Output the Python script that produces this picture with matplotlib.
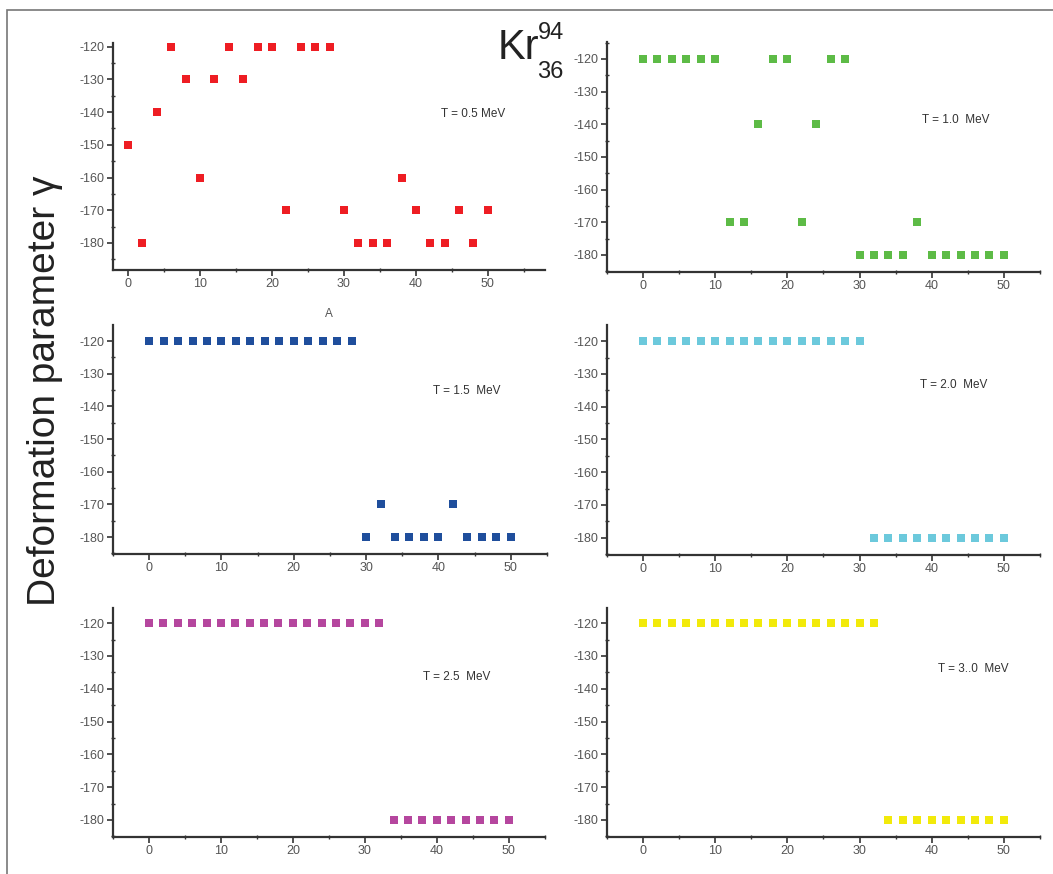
import matplotlib
matplotlib.use('Agg')
import matplotlib.pyplot as plt
from matplotlib.ticker import MultipleLocator
from matplotlib.patches import Rectangle

plt.rcParams.update({'font.family': ['Liberation Sans', 'DejaVu Sans'],
                     'axes.unicode_minus': False,
                     'figure.facecolor': 'white', 'axes.facecolor': 'white'})

# mass number A (x) and deformation gamma (y) per temperature
A = list(range(0, 51, 2))

gamma_05 = [-150, -180, -140, -120, -130, -160, -130, -120, -130, -120, -120, -170, -120,
            -120, -120, -170, -180, -180, -180, -160, -170, -180, -180, -170, -180, -170]
gamma_10 = [-120, -120, -120, -120, -120, -120, -170, -170, -140, -120, -120, -170, -140,
            -120, -120, -180, -180, -180, -180, -170, -180, -180, -180, -180, -180, -180]
gamma_15 = [-120] * 15 + [-180, -170, -180, -180, -180, -180, -170, -180, -180, -180, -180]
gamma_20 = [-120] * 16 + [-180] * 10
gamma_25 = [-120] * 17 + [-180] * 9
gamma_30 = [-120] * 17 + [-180] * 9

labels = ['T = 0.5 MeV', 'T = 1.0  MeV', 'T = 1.5  MeV',
          'T = 2.0  MeV', 'T = 2.5  MeV', 'T = 3..0  MeV']
series = [gamma_05, gamma_10, gamma_15, gamma_20, gamma_25, gamma_30]
colors = ['#ee1d23', '#5dbb46', '#1f4e9c', '#6cc9dc', '#b5469e', '#f2ea0a']

# axes boxes in figure fractions
boxes = [(0.1073, 0.691, 0.410, 0.260),
         (0.5764, 0.689, 0.4112, 0.263),
         (0.1073, 0.366, 0.412, 0.262),
         (0.5764, 0.365, 0.4112, 0.263),
         (0.1073, 0.0423, 0.410, 0.262),
         (0.5764, 0.0423, 0.4112, 0.262)]
xlims = [(-2.1, 57.9)] + [(-5, 55)] * 5
ylims = [(-188.3, -118.8), (-185.2, -114.8), (-185.2, -115.1),
         (-185.3, -115.1), (-185.2, -115.4), (-185.2, -115.4)]
label_pos = [(47.9, -140.5), (43.3, -138.7), (43.9, -135.3),
             (43.0, -133.5), (42.8, -136.4), (45.8, -134.0)]

fig = plt.figure(figsize=(10.53, 8.74), dpi=100)
fig.patches.append(Rectangle((0.0066, -0.01), 1.1, 0.9986, transform=fig.transFigure,
                             fill=False, edgecolor='#777777', linewidth=1.2))

for i in range(6):
    ax = fig.add_axes(boxes[i])
    ax.scatter(A, series[i], marker='s', s=36, color=colors[i], linewidths=0, zorder=3)
    ax.set_xlim(*xlims[i])
    ax.set_ylim(*ylims[i])
    ax.spines['top'].set_visible(False)
    ax.spines['right'].set_visible(False)
    for s in ('left', 'bottom'):
        ax.spines[s].set_linewidth(1.6)
        ax.spines[s].set_color('#333333')
    ax.xaxis.set_major_locator(MultipleLocator(10))
    ax.xaxis.set_minor_locator(MultipleLocator(5))
    ax.yaxis.set_major_locator(MultipleLocator(10))
    ax.yaxis.set_minor_locator(MultipleLocator(5))
    ax.set_xticks(range(0, 51, 10))
    ax.set_yticks(range(-180, -119, 10))
    ax.tick_params(which='major', direction='out', length=4, width=1.2,
                   color='#333333', labelsize=9, labelcolor='#555555', pad=2)
    ax.tick_params(which='minor', direction='inout', length=3, width=1.0, color='#333333')
    ax.text(label_pos[i][0], label_pos[i][1], labels[i], ha='center', va='center',
            fontsize=8.5, color='#333333')

fig.text(0.3125, 0.641, 'A', ha='center', va='center', fontsize=8.5, color='#555555')
fig.text(0.043, 0.553, 'Deformation parameter \u03b3', rotation=90, ha='center', va='center',
         fontsize=28, color='#222222')
fig.text(0.492, 0.945, 'Kr', ha='center', va='center', fontsize=30, color='#222222')
fig.text(0.523, 0.962, '94', ha='center', va='center', fontsize=17, color='#222222')
fig.text(0.523, 0.918, '36', ha='center', va='center', fontsize=17, color='#222222')

plt.savefig('out.png', dpi=100)
plt.close()
